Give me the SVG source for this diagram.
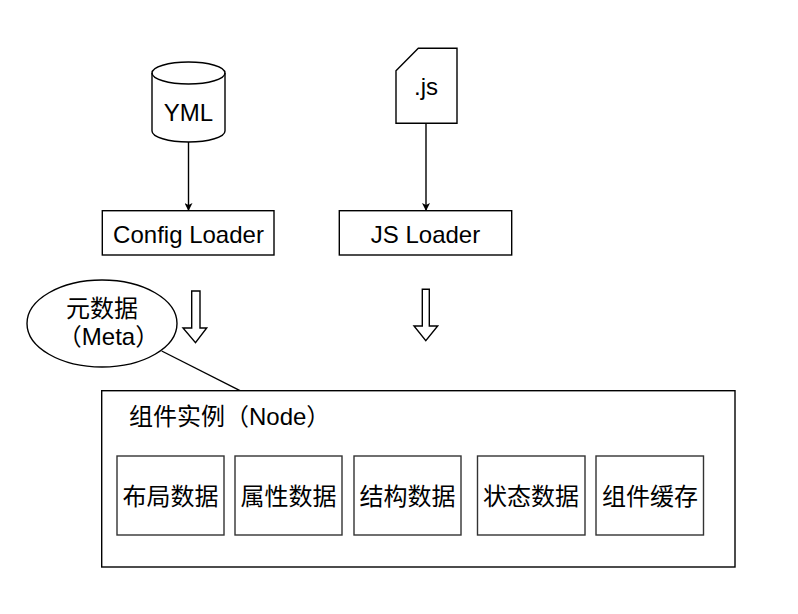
<svg xmlns="http://www.w3.org/2000/svg" width="798" height="614" viewBox="0 0 798 614">
<style>
.s{fill:#fff;stroke:#000;stroke-width:1.4}
.in{fill:#fff;stroke:#333;stroke-width:1.4}
.t{font-family:"Liberation Sans","Noto Sans CJK SC",Arial,sans-serif;font-size:24px;fill:#000}
.m{text-anchor:middle}
.c{stroke:#000;stroke-width:1.4;fill:none}
</style>
<defs>
<marker id="ah" viewBox="0 0 8 8" refX="8" refY="4" markerWidth="8" markerHeight="8" markerUnits="userSpaceOnUse" orient="auto">
<path d="M0,0 L8,4 L0,8 L2,4 Z" fill="#000"/>
</marker>
</defs>
<rect width="798" height="614" fill="#fff"/>
<g id="connectors">
<line class="c" x1="188.5" y1="142" x2="188.5" y2="211" marker-end="url(#ah)"/>
<line class="c" x1="426" y1="123.3" x2="426" y2="211" marker-end="url(#ah)"/>
<line class="c" x1="161.7" y1="351" x2="240" y2="390.7"/>
<path class="s" d="M191.7,291 H200 V328 H206.7 L195.5,342.7 L183,328 H191.7 Z"/>
<path class="s" d="M422.3,289.3 H429.3 V326 H437.7 L425.8,340.7 L414,326 H422.3 Z"/>
</g>
<g id="yml">
<path class="s" d="M152,73 a36.5,11 0 0 1 73,0 v58 a36.5,11 0 0 1 -73,0 Z"/>
<path class="c" d="M152,73 a36.5,11 0 0 0 73,0"/>
<text class="t m" x="188.5" y="121">YML</text>
</g>
<g id="js">
<path class="s" d="M396,70.7 L418.3,48.3 L457,48.3 L457,123.3 L396,123.3 Z"/>
<text class="t m" x="426" y="95">.js</text>
</g>
<g id="config-loader">
<rect class="s" x="102.3" y="210.7" width="171.7" height="44.3"/>
<text class="t m" x="188.5" y="243">Config Loader</text>
</g>
<g id="js-loader">
<rect class="s" x="339.3" y="210.7" width="172.4" height="44.3"/>
<text class="t m" x="425.5" y="243">JS Loader</text>
</g>
<g id="meta">
<ellipse class="s" cx="102" cy="323.5" rx="75" ry="43.5"/>
<text class="t m" x="102" y="317">元数据</text>
<text class="t m" x="108.5" y="345">（Meta）</text>
</g>
<g id="node">
<rect class="s" x="101.7" y="390.7" width="633.3" height="176.3"/>
<text class="t" x="129" y="425">组件实例（Node）</text>
</g>
<g id="layout-data">
<rect class="in" x="117" y="456" width="107" height="79"/>
<text class="t m" x="170.5" y="505">布局数据</text>
</g>
<g id="attr-data">
<rect class="in" x="235" y="456" width="107" height="79"/>
<text class="t m" x="288.5" y="505">属性数据</text>
</g>
<g id="struct-data">
<rect class="in" x="354" y="456" width="107" height="79"/>
<text class="t m" x="407.5" y="505">结构数据</text>
</g>
<g id="state-data">
<rect class="in" x="477.5" y="456" width="107.5" height="79"/>
<text class="t m" x="531" y="505">状态数据</text>
</g>
<g id="cache">
<rect class="in" x="596" y="456" width="107.5" height="79"/>
<text class="t m" x="650" y="505">组件缓存</text>
</g>
</svg>
